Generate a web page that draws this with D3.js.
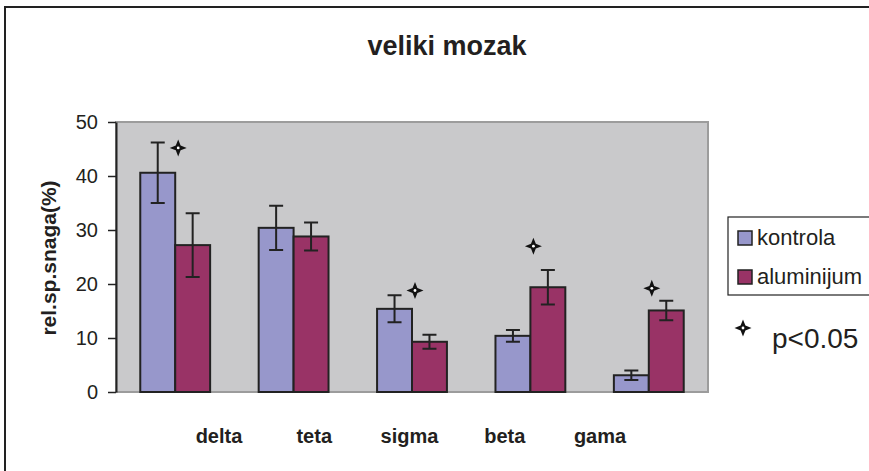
<!DOCTYPE html>
<html>
<head>
<meta charset="utf-8">
<script src="https://cdn.jsdelivr.net/npm/d3@7"></script>
<style>
  body { margin: 0; background: #fff; }
  svg { display: block; font-family: "Liberation Sans", Arial, sans-serif; }
</style>
</head>
<body>
<div id="holder"></div>
<script>
var categories = ['delta', 'teta', 'sigma', 'beta', 'gama'];
var seriesNames = ['kontrola', 'aluminijum'];
var kontrola = [40.6, 30.4, 15.4, 10.4, 3.1];
var kontrolaErr = [5.6, 4.1, 2.5, 1.1, 0.9];
var aluminijum = [27.2, 28.8, 9.3, 19.4, 15.1];
var aluminijumErr = [5.9, 2.6, 1.3, 3.2, 1.8];
var starValues = [45.2, null, 18.8, 27.0, 19.2];
var yTicks = [0, 10, 20, 30, 40, 50];

var colors = { kontrola: '#9797cb', aluminijum: '#993366' };

function generateChart() {
  var fullWidth = 869, fullHeight = 471;
  var plot = { left: 116, top: 122, right: 708, bottom: 392 };

  var svg = d3.select('#holder').append('svg')
    .attr('width', fullWidth)
    .attr('height', fullHeight);

  // outer frame (right and bottom run off the picture)
  svg.append('path')
    .attr('d', 'M5,480 L5,7 L880,7')
    .attr('fill', 'none')
    .attr('stroke', '#222')
    .attr('stroke-width', 2);

  svg.append('text')
    .attr('x', 447).attr('y', 55)
    .attr('text-anchor', 'middle')
    .attr('font-size', 27).attr('font-weight', 'bold')
    .attr('fill', '#231f20')
    .text('veliki mozak');

  var y = d3.scaleLinear().domain([0, 50]).range([plot.bottom, plot.top]);
  var x = d3.scaleBand().domain(categories).range([plot.left, plot.right]);
  var groupWidth = x.bandwidth() * 0.59;
  var sub = d3.scaleBand().domain(seriesNames).range([-groupWidth / 2, groupWidth / 2]);

  svg.append('rect')
    .attr('x', plot.left).attr('y', plot.top)
    .attr('width', plot.right - plot.left).attr('height', plot.bottom - plot.top)
    .attr('fill', '#c9c9cb')
    .attr('stroke', '#9c9c9c')
    .attr('stroke-width', 2);

  var rows = [];
  categories.forEach(function (c, i) {
    rows.push({ cat: c, s: 'kontrola', v: kontrola[i], e: kontrolaErr[i] });
    rows.push({ cat: c, s: 'aluminijum', v: aluminijum[i], e: aluminijumErr[i] });
  });

  svg.append('g').selectAll('rect.bar')
      .data(rows)
    .enter().append('rect')
      .classed('bar', true)
      .attr('x', function (d) { return x(d.cat) + x.bandwidth() / 2 + sub(d.s); })
      .attr('y', function (d) { return y(d.v); })
      .attr('width', sub.bandwidth())
      .attr('height', function (d) { return y(0) - y(d.v); })
      .attr('fill', function (d) { return colors[d.s]; })
      .attr('stroke', '#222')
      .attr('stroke-width', 2);

  var err = svg.append('g')
    .attr('stroke', '#222')
    .attr('stroke-width', 2)
    .attr('fill', 'none');
  err.selectAll('path')
      .data(rows)
    .enter().append('path')
      .attr('d', function (d) {
        var cx = x(d.cat) + x.bandwidth() / 2 + sub(d.s) + sub.bandwidth() / 2;
        var t = y(d.v + d.e), b = y(d.v - d.e);
        return 'M' + (cx - 7) + ',' + t + 'H' + (cx + 7) +
          'M' + cx + ',' + t + 'V' + b +
          'M' + (cx - 7) + ',' + b + 'H' + (cx + 7);
      });

  var starPath = 'M0,-8.5 L2.4,-2.4 L8.5,0 L2.4,2.4 L0,8.5 L-2.4,2.4 L-8.5,0 L-2.4,-2.4 Z';
  function drawStar(g, cx, cy) {
    g.append('path').attr('d', starPath)
      .attr('transform', 'translate(' + cx + ',' + cy + ')')
      .attr('fill', '#111');
    g.append('circle').attr('cx', cx).attr('cy', cy).attr('r', 1.4).attr('fill', '#fff');
  }
  var starG = svg.append('g');
  categories.forEach(function (c, i) {
    if (starValues[i] != null) {
      drawStar(starG, x(c) + x.bandwidth() / 2 + 3, y(starValues[i]));
    }
  });

  var yaxis = d3.axisLeft(y).tickValues(yTicks).tickSize(8).tickSizeOuter(0).tickPadding(10);
  var ya = svg.append('g')
    .attr('transform', 'translate(' + plot.left + ',0)')
    .call(yaxis);
  ya.select('.domain').attr('stroke', '#222').attr('stroke-width', 2);
  ya.selectAll('.tick line').attr('stroke', '#222').attr('stroke-width', 1.5);
  ya.selectAll('.tick text')
    .attr('font-size', 20)
    .attr('font-family', '"Liberation Sans", Arial, sans-serif')
    .attr('fill', '#231f20');

  svg.append('text')
    .attr('transform', 'translate(56,258) rotate(-90)')
    .attr('text-anchor', 'middle')
    .attr('font-size', 21).attr('font-weight', 'bold')
    .attr('fill', '#231f20')
    .text('rel.sp.snaga(%)');

  // category labels sit offset from the bars, as in the original
  var labelScale = d3.scalePoint().domain(categories).range([219, 600]);
  svg.append('g').selectAll('text')
      .data(categories)
    .enter().append('text')
      .attr('x', function (d) { return labelScale(d); })
      .attr('y', 443)
      .attr('text-anchor', 'middle')
      .attr('font-size', 20).attr('font-weight', 'bold')
      .attr('fill', '#231f20')
      .text(function (d) { return d; });

  // legend
  var legend = svg.append('g');
  legend.append('rect')
    .attr('x', 728).attr('y', 217)
    .attr('width', 160).attr('height', 78)
    .attr('fill', '#fff').attr('stroke', '#222').attr('stroke-width', 1.2);
  seriesNames.forEach(function (s, i) {
    var ly = 231 + i * 39;
    legend.append('rect')
      .attr('x', 738).attr('y', ly)
      .attr('width', 14).attr('height', 14)
      .attr('fill', colors[s]).attr('stroke', '#222').attr('stroke-width', 1.5);
    legend.append('text')
      .attr('x', 757).attr('y', ly + 14)
      .attr('font-size', 22)
      .attr('fill', '#231f20')
      .text(s);
  });
  drawStar(legend, 743, 328);
  legend.append('text')
    .attr('x', 772).attr('y', 348)
    .attr('font-size', 28)
    .attr('fill', '#231f20')
    .text('p<0.05');
}

generateChart();
</script>
</body>
</html>
